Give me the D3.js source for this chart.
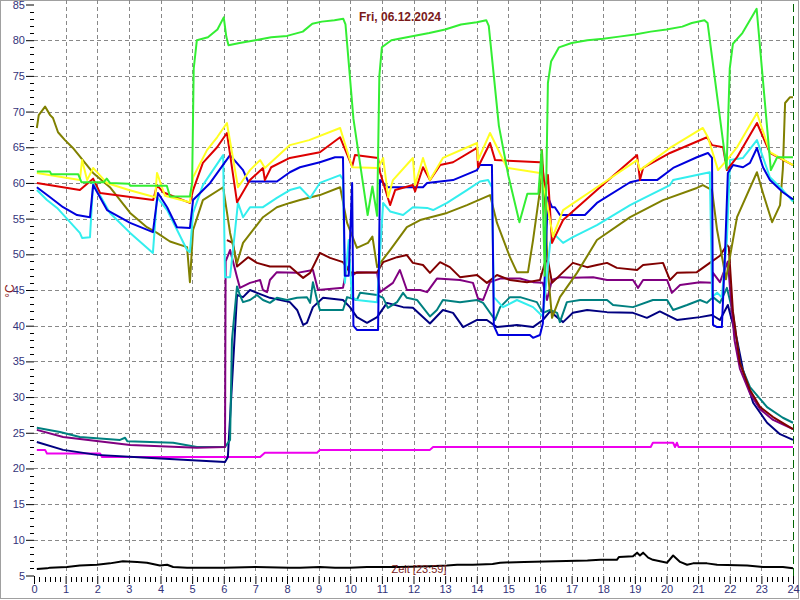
<!DOCTYPE html>
<html><head><meta charset="utf-8">
<script src="https://cdn.jsdelivr.net/npm/d3@7"></script>
<style>body{margin:0;background:#fff}svg{display:block}</style>
</head><body>
<svg id="c" width="800" height="600"></svg>
<script>
const title = "Fri, 06.12.2024";
const yLabel = "°C";
const xLabel = "Zeit [23:59]";
const xTicks = d3.range(0, 25);
const yTicks = d3.range(5, 90, 5);

// [hour, °C]
const green = [[0.09,61.6],[0.5,61.6],[0.55,61.2],[1.4,61.2],[1.5,60.1],[2.2,60.1],[2.3,60.6],[2.4,60.0],[3.0,59.9],[3.05,59.6],[4.2,59.6],[4.3,58.1],[4.93,58.1],[5.0,60],[5.05,76],[5.15,80],[5.5,80.4],[5.8,81.5],[6.0,83.2],[6.08,80.5],[6.15,79.3],[6.5,79.6],[7.0,80.0],[7.5,80.4],[8.0,80.6],[8.5,81.2],[8.8,82.3],[9.1,82.6],[9.5,82.8],[9.78,83.0],[9.85,82.2],[10.1,69],[10.55,55.5],[10.7,59.5],[10.85,55.4],[10.92,75],[11.0,79],[11.3,80],[12,80.6],[12.5,81],[13,81.5],[13.5,82.2],[14.0,82.5],[14.3,82.8],[14.38,82],[14.7,68],[15.0,61],[15.35,54.5],[15.6,58.5],[15.95,58.5],[16.05,64.5],[16.15,47],[16.25,74],[16.35,77],[16.6,79],[17.0,79.6],[17.5,80.0],[18.0,80.2],[18.5,80.5],[19.0,80.8],[19.5,81.2],[20.0,81.5],[20.5,81.9],[20.8,82.4],[21.2,82.8],[21.3,82.4],[21.9,62],[22.0,76],[22.1,79.5],[22.4,81],[22.85,84.4],[23.3,61.8],[23.5,63.6],[24,63.6]];
const yellow = [[0.09,61.4],[1.45,60.4],[1.52,63.2],[1.68,60.4],[1.87,62.1],[2.3,60.0],[3.0,59.0],[3.83,58.0],[3.89,61.4],[4.14,58.2],[4.93,57.3],[5.03,60.8],[5.47,64.6],[5.79,66.4],[6.1,68.4],[6.45,59.4],[6.83,61.8],[7.15,63.2],[7.3,62.1],[8.09,65.3],[8.7,66.0],[9.68,67.7],[10.06,62.2],[10.88,62.1],[11.04,63.5],[11.2,58.0],[11.35,60.4],[11.98,63.5],[12.05,59.7],[12.3,63.5],[12.52,60.4],[12.93,63.5],[14.01,65.6],[14.04,63.2],[14.42,67.0],[14.96,62.1],[16.0,61.4],[16.16,58.6],[16.41,52.5],[16.73,56.2],[17.8,59.4],[19.07,63.2],[19.16,61.8],[20.11,64.9],[21.15,67.7],[21.31,66.4],[21.63,61.8],[21.91,63.2],[22.23,65.0],[22.86,69.8],[23.27,64.3],[24,62.5]];
const red = [[0.09,60.0],[1.45,59.0],[1.87,60.6],[2.09,58.6],[3.77,57.6],[3.89,59.7],[4.08,58.7],[4.93,57.2],[5.03,59.0],[5.34,62.8],[5.79,65.0],[6.1,67.0],[6.42,57.3],[6.83,60.4],[7.24,62.1],[7.3,60.4],[7.5,62.2],[8.09,63.5],[9.04,64.3],[9.68,66.4],[10.06,62.3],[10.15,63.9],[10.88,63.5],[10.94,61.5],[11.26,56.9],[11.42,59.0],[11.98,59.7],[12.05,58.8],[12.3,62.2],[12.52,60.4],[12.84,62.5],[13.25,62.9],[14.01,64.9],[14.04,62.2],[14.42,65.6],[14.58,63.2],[16.0,62.9],[16.06,62.9],[16.16,59.0],[16.25,61.1],[16.38,51.6],[16.73,54.8],[17.8,59.0],[19.07,63.9],[19.16,60.4],[19.26,62.1],[20.11,64.2],[21.28,66.4],[21.44,65.3],[21.79,65.0],[21.91,61.8],[22.23,63.6],[22.86,68.4],[23.27,64.2],[24,62.5]];
const blue = [[0.09,59.4],[0.51,58.0],[0.92,56.6],[1.36,55.5],[1.77,55.2],[1.87,59.7],[2.31,56.2],[3.04,54.4],[3.76,53.1],[3.92,58.6],[4.21,56.6],[4.52,53.8],[4.93,53.7],[5.03,57.6],[5.57,60.0],[6.2,63.9],[6.61,61.8],[6.77,60.2],[7.68,60.2],[8.09,61.5],[8.41,62.2],[9.04,62.9],[9.52,63.6],[9.77,63.6],[9.83,47.0],[9.95,47.0],[10.06,60.0],[10.1,40.0],[10.21,39.4],[10.88,39.4],[10.94,60.4],[11.19,59.4],[12.3,59.4],[12.43,60.0],[13.25,60.4],[14.01,61.8],[14.1,62.5],[14.48,62.5],[14.54,40.0],[14.67,38.7],[15.68,38.7],[15.78,38.3],[16.0,38.7],[16.09,40.3],[16.25,58],[16.38,56.6],[16.47,56.6],[16.63,55.5],[17.42,55.5],[17.8,57.2],[18.85,60.1],[19.16,60.4],[19.7,60.4],[20.21,62.1],[20.96,63.6],[21.31,64.2],[21.44,63.5],[21.47,40.1],[21.6,39.8],[21.75,39.8],[21.85,50],[21.94,61.4],[22.1,62.5],[22.42,62.2],[22.64,62.8],[22.86,64.9],[23.05,62.2],[23.27,60.4],[23.68,58.7],[24,57.7]];
const cyan = [[0.09,59.0],[0.41,57.6],[0.73,56.5],[1.14,54.5],[1.45,53.0],[1.52,52.3],[1.77,52.4],[1.87,60.0],[2.4,55.8],[3.04,53.0],[3.76,50.2],[3.89,58.0],[4.21,56.2],[4.84,50.6],[4.93,50.3],[5.03,55.8],[5.34,59.7],[5.98,63.9],[6.04,46.8],[6.2,46.8],[6.45,57.2],[6.61,55.2],[6.83,56.6],[7.24,56.6],[7.68,57.9],[8.09,59.0],[8.41,59.4],[8.73,57.9],[9.04,60.0],[9.68,61.1],[9.77,60.5],[9.83,46],[9.95,52],[10.05,44],[10.21,43.6],[10.85,43.3],[10.94,50],[11.04,57.2],[11.26,56.0],[11.67,55.5],[11.98,56.6],[12.43,56.5],[12.62,56.2],[13.06,57.2],[13.69,59.0],[14.1,60.2],[14.36,60.4],[14.48,59.4],[14.54,44],[14.83,42.6],[15.27,43.6],[15.78,42.6],[16.09,41.3],[16.32,51.5],[16.41,53.0],[16.73,51.6],[17.04,52.4],[17.8,54.1],[18.85,56.9],[19.16,57.6],[20.11,59.7],[20.21,60.4],[21.37,61.5],[21.44,44.0],[21.6,44.6],[21.75,44.0],[21.91,52],[22.01,63.2],[22.42,63.5],[22.86,66.0],[23.27,60.8],[23.68,59.0],[24,57.4]];
const olive = [[0.09,67.7],[0.15,69.5],[0.35,70.7],[0.51,69.5],[0.6,69.1],[0.76,67.1],[0.98,66.0],[1.23,64.9],[1.87,61.4],[2.4,59.4],[3.04,55.8],[3.57,53.8],[3.89,53.0],[4.3,51.8],[4.84,51.0],[4.93,46.1],[5.03,53.4],[5.34,57.6],[5.98,59.4],[6.2,53.0],[6.42,48.8],[6.61,51.6],[7.24,55.2],[7.68,56.6],[8.09,57.2],[8.41,57.6],[9.04,58.3],[9.68,59.4],[9.9,54.4],[10.21,50.9],[10.56,51.6],[10.7,52.5],[10.85,48.2],[11.26,50.6],[11.79,53.8],[12.21,54.8],[13.06,55.8],[13.69,56.9],[14.42,58.3],[14.64,54.4],[15.05,49.6],[15.27,47.5],[15.62,47.5],[15.78,52.0],[16.0,59.0],[16.06,64.6],[16.16,57],[16.25,47.6],[16.38,41.1],[16.63,44.0],[17.17,47.4],[17.8,52.0],[18.85,55.2],[19.89,57.6],[20.96,59.3],[21.15,59.7],[21.44,59.0],[21.6,53.4],[21.79,48.8],[21.88,46.5],[22.23,55.2],[22.86,61.5],[23.05,58.6],[23.34,54.5],[23.59,56.9],[23.68,62],[23.75,71.2],[23.9,72.0],[24,72.0]];
const maroon = [[6.1,52.0],[6.29,51.6],[6.42,48.3],[6.61,49.0],[6.77,49.6],[7.05,48.8],[7.46,48.3],[8.09,48.3],[8.32,47.4],[8.51,46.7],[8.73,47.4],[9.04,50.2],[9.36,49.5],[9.77,48.9],[9.99,47.5],[10.21,47.4],[10.85,47.5],[11.04,48.9],[11.48,49.6],[11.79,49.9],[11.98,48.8],[12.3,48.5],[12.52,47.4],[12.84,48.9],[13.15,48.2],[13.47,46.8],[14.01,47.1],[14.32,46.0],[14.64,47.1],[15.05,46.4],[15.59,46.1],[16.0,46.4],[16.16,48.9],[16.25,49.2],[16.38,46.0],[16.73,47.5],[17.04,48.8],[17.49,48.2],[17.8,48.5],[18.12,48.8],[18.43,48.1],[19.07,47.8],[19.26,48.5],[19.89,48.8],[20.11,46.4],[20.33,47.4],[20.96,47.5],[21.37,48.8],[21.69,49.8],[21.91,51.3],[21.97,51.0],[22.1,42.0],[22.32,34.8],[22.64,31.0],[22.96,28.6],[23.37,27.2],[24,25.5]];
const purple = [[0.09,25.4],[0.92,24.4],[3.04,23.3],[5.15,22.9],[6.04,23.0],[6.06,49.0],[6.2,50.6],[6.42,46.8],[6.51,45.3],[6.83,46.0],[7.15,46.4],[7.24,45.0],[7.37,44.7],[7.46,46.4],[7.68,47.5],[8.32,47.4],[8.82,47.8],[8.98,45.0],[9.77,45.3],[9.9,48.3],[10.06,47.0],[10.21,47.5],[10.85,47.4],[10.94,44.7],[11.35,46.0],[11.57,47.8],[11.79,45.0],[12.21,45.0],[12.43,44.7],[12.74,46.6],[13.47,46.4],[13.88,46.0],[14.04,43.8],[14.2,43.6],[14.42,46.1],[14.74,46.6],[15.37,46.6],[15.78,46.1],[16.09,46.0],[16.22,43.6],[16.38,46.4],[16.63,46.8],[17.04,46.7],[17.68,46.8],[18.12,46.4],[18.94,46.4],[19.1,45.3],[19.26,46.4],[20.02,46.4],[20.17,44.6],[20.43,45.7],[21.06,46.1],[21.44,46.0],[21.47,47.4],[21.69,46.1],[21.94,49.0],[22.03,44],[22.15,38],[22.32,34.0],[22.64,30.5],[22.96,28.3],[23.37,26.8],[24,25.5]];
const teal = [[0.09,25.7],[0.82,25.1],[1.45,24.4],[2.72,24.0],[2.88,24.3],[2.95,23.8],[4.4,23.6],[5.15,23.0],[6.04,23.0],[6.2,24.0],[6.26,38.0],[6.42,45.5],[6.51,44.3],[6.61,43.3],[6.83,43.6],[7.05,44.3],[7.24,43.6],[7.46,43.2],[7.68,43.9],[8.0,43.6],[8.32,43.9],[8.63,44.0],[8.73,43.2],[8.82,46.1],[8.95,43.6],[9.04,42.2],[9.77,42.2],[9.9,44.0],[10.21,43.6],[10.31,44.6],[10.85,44.3],[11.04,43.9],[11.19,42.5],[11.48,43.3],[11.67,44.6],[11.79,43.9],[12.11,43.6],[12.52,41.3],[12.74,42.2],[12.93,43.6],[13.47,43.3],[14.01,43.6],[14.2,43.2],[14.58,40.8],[14.74,42.6],[15.05,44.0],[15.37,44.0],[15.9,43.3],[16.09,41.8],[16.32,42.2],[16.54,41.8],[16.63,40.5],[16.85,43.3],[17.27,43.6],[18.12,43.6],[18.31,42.9],[18.94,42.6],[19.57,43.6],[20.02,43.6],[20.21,42.2],[20.65,42.9],[21.06,43.6],[21.28,43.2],[21.47,44.0],[21.69,43.2],[21.91,45.3],[22.1,41.8],[22.32,34.8],[22.64,31.4],[23.18,28.6],[23.68,27.1],[24,26.4]];
const navy = [[0.09,23.7],[0.92,22.6],[1.99,21.9],[3.57,21.5],[5.15,21.1],[6.04,20.9],[6.13,21.6],[6.3,35],[6.42,44.3],[6.61,44.0],[6.83,45.0],[7.05,44.6],[7.46,43.9],[8.09,43.3],[8.32,42.2],[8.51,40.1],[8.63,40.4],[8.82,42.6],[9.14,43.9],[9.77,43.6],[9.99,42.6],[10.21,41.2],[10.53,40.4],[10.85,41.2],[11.16,43.2],[11.67,42.6],[11.98,42.5],[12.52,40.3],[12.93,42.2],[13.25,41.8],[13.57,39.8],[14.01,40.8],[14.32,40.8],[14.64,39.8],[15.27,40.1],[15.78,39.8],[16.09,40.8],[16.32,42.0],[16.73,40.5],[17.04,41.8],[17.49,42.2],[18.12,41.9],[18.94,41.8],[19.38,41.1],[19.79,42.0],[20.33,40.8],[21.06,41.2],[21.44,41.5],[21.69,40.8],[21.94,42.9],[22.23,38.0],[22.42,33.8],[22.74,29.2],[23.18,26.4],[23.59,24.8],[24,24.0]];
const magenta = [[0.09,22.6],[0.35,22.6],[0.41,22.1],[2.09,22.1],[2.15,21.6],[7.15,21.6],[7.3,22.2],[8.95,22.2],[9.04,22.6],[12.52,22.6],[12.62,23.0],[19.5,23.0],[19.57,23.6],[20.21,23.6],[20.27,23.0],[20.33,23.6],[20.38,23.0],[24,23.0]];
const black = [[0.09,5.9],[0.41,6.0],[0.51,6.1],[1.04,6.2],[1.45,6.4],[1.99,6.5],[2.4,6.7],[2.81,7.0],[3.26,6.9],[3.57,6.8],[3.98,6.4],[4.21,6.5],[4.4,6.2],[4.84,6.1],[5.25,6.1],[6.0,6.1],[7.0,6.2],[8.09,6.1],[8.41,6.1],[9.04,6.2],[9.52,6.1],[9.99,6.1],[10.53,6.2],[11.0,6.2],[11.57,6.2],[12.5,6.3],[13.06,6.4],[13.38,6.5],[13.88,6.5],[14.5,6.6],[14.74,6.8],[15.5,6.9],[16.5,7.0],[17.5,7.1],[17.9,7.2],[18.43,7.2],[18.5,7.6],[18.94,7.7],[19.07,8.2],[19.16,7.8],[19.26,8.2],[19.42,7.5],[19.57,7.2],[20.02,6.8],[20.21,7.8],[20.43,6.9],[20.65,6.5],[20.84,6.7],[21.28,6.7],[21.6,6.5],[22.55,6.4],[23.05,6.2],[23.68,6.2],[24,6.0]];

const series = [
  {d: black, c: "#000000"},
  {d: magenta, c: "#ee00ee"},
  {d: navy, c: "#000080"},
  {d: teal, c: "#008080"},
  {d: purple, c: "#800080"},
  {d: maroon, c: "#800000"},
  {d: olive, c: "#808000"},
  {d: cyan, c: "#33eeee"},
  {d: blue, c: "#0000dd"},
  {d: red, c: "#dd0000"},
  {d: yellow, c: "#ffff22"},
  {d: green, c: "#33ee33"}
];

const svg = d3.select("#c");
const x = d3.scaleLinear().domain([0, 24]).range([34, 793]);
const y = d3.scaleLinear().domain([5, 85]).range([575.5, 4.5]);

svg.append("rect").attr("x", 0.5).attr("y", 0.5).attr("width", 798).attr("height", 598)
  .attr("fill", "#fff").attr("stroke", "#a0a0a0");

// grid
const g = svg.append("g");
g.selectAll(".vg").data(xTicks.filter(t => t > 0 && t < 24)).join("line")
  .attr("x1", d => Math.round(x(d)) + 0.5).attr("x2", d => Math.round(x(d)) + 0.5)
  .attr("y1", 0).attr("y2", 575)
  .attr("stroke", "#888888").attr("stroke-dasharray", "4,3");
g.selectAll(".hg").data(yTicks.filter(t => t > 5 && t < 85)).join("line")
  .attr("x1", 34).attr("x2", 793)
  .attr("y1", d => Math.round(y(d)) + 0.5).attr("y2", d => Math.round(y(d)) + 0.5)
  .attr("stroke", "#888888").attr("stroke-dasharray", "4,3");
svg.append("line").attr("x1", 793.5).attr("x2", 793.5).attr("y1", 4).attr("y2", 576)
  .attr("stroke", "#006400").attr("stroke-dasharray", "8,4");

// y axis
const yAxis = d3.axisLeft(y).tickValues(yTicks).tickSize(8).tickSizeOuter(0);
const ya = svg.append("g").attr("transform", "translate(34,0)").call(yAxis);
ya.select(".domain").remove();
ya.selectAll(".tick line").attr("stroke", "#000");
ya.selectAll(".tick text").attr("fill", "#33337a").attr("font-family", "Arial, 'Liberation Sans', sans-serif")
  .attr("font-size", 11).attr("x", -9);
const yMinor = d3.range(5, 86, 1).filter(v => v % 5 !== 0);
svg.append("g").selectAll("line").data(yMinor).join("line")
  .attr("x1", 30).attr("x2", 34)
  .attr("y1", d => Math.round(y(d)) + 0.5).attr("y2", d => Math.round(y(d)) + 0.5)
  .attr("stroke", "#000");

// x axis
const xAxis = d3.axisBottom(x).tickValues(xTicks).tickSize(8).tickSizeOuter(0);
const xa = svg.append("g").attr("transform", "translate(0,576)").call(xAxis);
xa.select(".domain").remove();
xa.selectAll(".tick line").attr("stroke", "#000");
xa.selectAll(".tick text").attr("fill", "#33337a").attr("font-family", "Arial, 'Liberation Sans', sans-serif")
  .attr("font-size", 11).attr("y", 9);
const xMinor = d3.range(0, 24 * 6).filter(i => i % 6 !== 0).map(i => i / 6);
svg.append("g").selectAll("line").data(xMinor).join("line")
  .attr("x1", d => Math.round(x(d)) + 0.5).attr("x2", d => Math.round(x(d)) + 0.5)
  .attr("y1", 577).attr("y2", 582)
  .attr("stroke", "#000");

// lines
const line = d3.line().x(d => x(d[0])).y(d => y(d[1]));
svg.append("g").selectAll("path").data(series).join("path")
  .attr("d", s => line(s.d)).attr("fill", "none")
  .attr("stroke", s => s.c).attr("stroke-width", 2).attr("stroke-linejoin", "round");

// texts
svg.append("text").attr("x", 400).attr("y", 21).attr("text-anchor", "middle")
  .attr("font-family", "Arial, 'Liberation Sans', sans-serif").attr("font-weight", "bold")
  .attr("font-size", 12).attr("fill", "#7a1a1a").text(title);
svg.append("text").attr("transform", "translate(14,291) rotate(-90)").attr("text-anchor", "middle")
  .attr("font-family", "Arial, 'Liberation Sans', sans-serif")
  .attr("font-size", 12).attr("fill", "#8b1a1a").text(yLabel);
svg.append("text").attr("x", 419).attr("y", 573).attr("text-anchor", "middle")
  .attr("font-family", "Arial, 'Liberation Sans', sans-serif")
  .attr("font-size", 11).attr("fill", "#7a1a1a").text(xLabel);
</script>
</body></html>
